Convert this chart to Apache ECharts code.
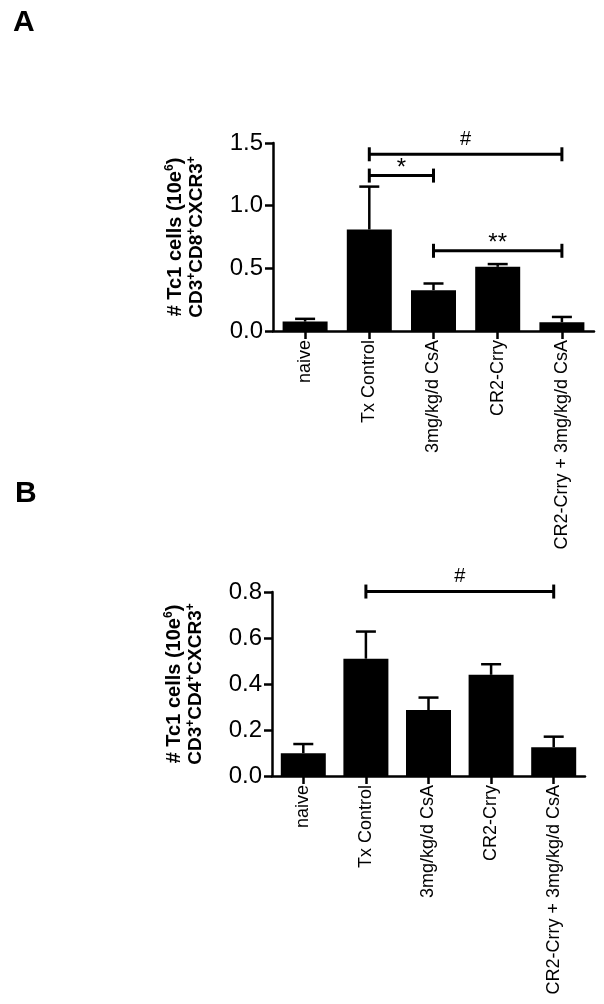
<!DOCTYPE html>
<html>
<head>
<meta charset="utf-8">
<script src="https://cdn.jsdelivr.net/npm/echarts@6/dist/echarts.min.js"></script>
<style>
html,body{margin:0;padding:0;background:#fff;}
#chart{width:604px;height:1004px;}
</style>
</head>
<body>
<div id="chart"></div>
<script>
var categories = ['naive', 'Tx Control', '3mg/kg/d CsA', 'CR2-Crry', 'CR2-Crry + 3mg/kg/d CsA'];

// Panel A: CD3+CD8+CXCR3+
var valuesA = [0.075, 0.81, 0.326, 0.512, 0.07];
var errorsA = [0.022, 0.342, 0.053, 0.022, 0.042];
var yTicksA = {min: 0, max: 1.5, interval: 0.5};
var bracketsA = [[1, 4, 1.41], [1, 2, 1.24], [2, 4, 0.64]];
var bracketLabelsA = ['#', '*', '**'];

// Panel B: CD3+CD4+CXCR3+
var valuesB = [0.099, 0.51, 0.287, 0.44, 0.125];
var errorsB = [0.04, 0.118, 0.054, 0.046, 0.046];
var yTicksB = {min: 0, max: 0.8, interval: 0.2};
var bracketsB = [[1, 4, 0.802]];
var bracketLabelsB = ['#'];

var FONT = "'Liberation Sans', Arial, sans-serif";

function errRender(params, api) {
  var i = api.value(0), v = api.value(1), e = api.value(2);
  var base = api.coord([i, v]);
  var top = api.coord([i, v + e]);
  var half = 10;
  return {
    type: 'group',
    children: [
      {type: 'line', shape: {x1: base[0], y1: base[1], x2: top[0], y2: top[1]}, style: {stroke: '#000', lineWidth: 2.5}},
      {type: 'line', shape: {x1: top[0] - half, y1: top[1], x2: top[0] + half, y2: top[1]}, style: {stroke: '#000', lineWidth: 2.5}}
    ]
  };
}

function makeBracketRender(labels) {
  return function (params, api) {
    var a = api.coord([api.value(0), api.value(2)]);
    var b = api.coord([api.value(1), api.value(2)]);
    var tk = 7;
    var lab = labels[params.dataIndex];
    var isStar = lab.indexOf('*') >= 0;
    return {
      type: 'group',
      children: [
        {type: 'line', shape: {x1: a[0], y1: a[1], x2: b[0], y2: b[1]}, style: {stroke: '#000', lineWidth: 3}},
        {type: 'line', shape: {x1: a[0], y1: a[1] - tk, x2: a[0], y2: a[1] + tk}, style: {stroke: '#000', lineWidth: 3}},
        {type: 'line', shape: {x1: b[0], y1: b[1] - tk, x2: b[0], y2: b[1] + tk}, style: {stroke: '#000', lineWidth: 3}},
        {type: 'text', x: (a[0] + b[0]) / 2, y: a[1] - (isStar ? 7 : 15),
          style: {text: lab, fill: '#000', font: (isStar ? '24px ' : '20px ') + FONT, align: 'center', verticalAlign: 'middle'}}
      ]
    };
  };
}

var richName = {
  b: {fontSize: 20, fontWeight: 'bold', fontFamily: FONT, color: '#000', lineHeight: 22},
  c: {fontSize: 19, fontWeight: 'bold', fontFamily: FONT, color: '#000', lineHeight: 22},
  sup: {fontSize: 12, fontWeight: 'bold', fontFamily: FONT, color: '#000', verticalAlign: 'top', lineHeight: 22}
};

function yAxisCfg(gridIndex, ticks, nameStr) {
  return {
    type: 'value', gridIndex: gridIndex,
    min: ticks.min, max: ticks.max, interval: ticks.interval,
    name: nameStr, nameLocation: 'middle', nameRotate: 90, nameGap: 65,
    nameTextStyle: {rich: richName, lineHeight: 22},
    axisLine: {show: true, lineStyle: {color: '#000', width: 2.5}},
    axisTick: {show: true, length: 8, lineStyle: {color: '#000', width: 2.5}},
    splitLine: {show: false},
    axisLabel: {color: '#000', fontSize: 24, fontFamily: FONT, margin: 10,
      formatter: function (v) { return v.toFixed(1); }}
  };
}

function xAxisCfg(gridIndex) {
  return {
    type: 'category', gridIndex: gridIndex, data: categories,
    axisLine: {show: true, lineStyle: {color: '#000', width: 2.5}},
    axisTick: {show: true, alignWithLabel: true, length: 8, lineStyle: {color: '#000', width: 2.5}},
    axisLabel: {rotate: 90, color: '#000', fontSize: 18, fontFamily: FONT, margin: 9, interval: 0}
  };
}

var chart = echarts.init(document.getElementById('chart'), null, {renderer: 'canvas'});
chart.setOption({
  animation: false,
  backgroundColor: '#fff',
  title: [
    {text: 'A', left: 8, top: 3, textStyle: {fontSize: 30, fontWeight: 'bold', fontFamily: FONT, color: '#000'}},
    {text: 'B', left: 10, top: 474, textStyle: {fontSize: 30, fontWeight: 'bold', fontFamily: FONT, color: '#000'}}
  ],
  grid: [
    {left: 273, right: 10, top: 143, height: 188},
    {left: 272, right: 19, top: 592, height: 184}
  ],
  xAxis: [xAxisCfg(0), xAxisCfg(1)],
  yAxis: [
    yAxisCfg(0, yTicksA, '{b|# Tc1 cells (10e}{sup|6}{b|)}\n{c|CD3}{sup|+}{c|CD8}{sup|+}{c|CXCR3}{sup|+}'),
    yAxisCfg(1, yTicksB, '{b|# Tc1 cells (10e}{sup|6}{b|)}\n{c|CD3}{sup|+}{c|CD4}{sup|+}{c|CXCR3}{sup|+}')
  ],
  series: [
    {type: 'custom', xAxisIndex: 0, yAxisIndex: 0, renderItem: errRender, clip: false, z: 1,
      encode: {x: 0, y: [1, 2]},
      data: valuesA.map(function (v, i) { return [i, v, errorsA[i]]; })},
    {type: 'bar', xAxisIndex: 0, yAxisIndex: 0, data: valuesA, barWidth: 45, itemStyle: {color: '#000'}, z: 2},
    {type: 'custom', xAxisIndex: 0, yAxisIndex: 0, renderItem: makeBracketRender(bracketLabelsA), clip: false, z: 3,
      encode: {x: [0, 1], y: 2}, data: bracketsA},
    {type: 'custom', xAxisIndex: 1, yAxisIndex: 1, renderItem: errRender, clip: false, z: 1,
      encode: {x: 0, y: [1, 2]},
      data: valuesB.map(function (v, i) { return [i, v, errorsB[i]]; })},
    {type: 'bar', xAxisIndex: 1, yAxisIndex: 1, data: valuesB, barWidth: 45, itemStyle: {color: '#000'}, z: 2},
    {type: 'custom', xAxisIndex: 1, yAxisIndex: 1, renderItem: makeBracketRender(bracketLabelsB), clip: false, z: 3,
      encode: {x: [0, 1], y: 2}, data: bracketsB}
  ]
});
</script>
</body>
</html>
